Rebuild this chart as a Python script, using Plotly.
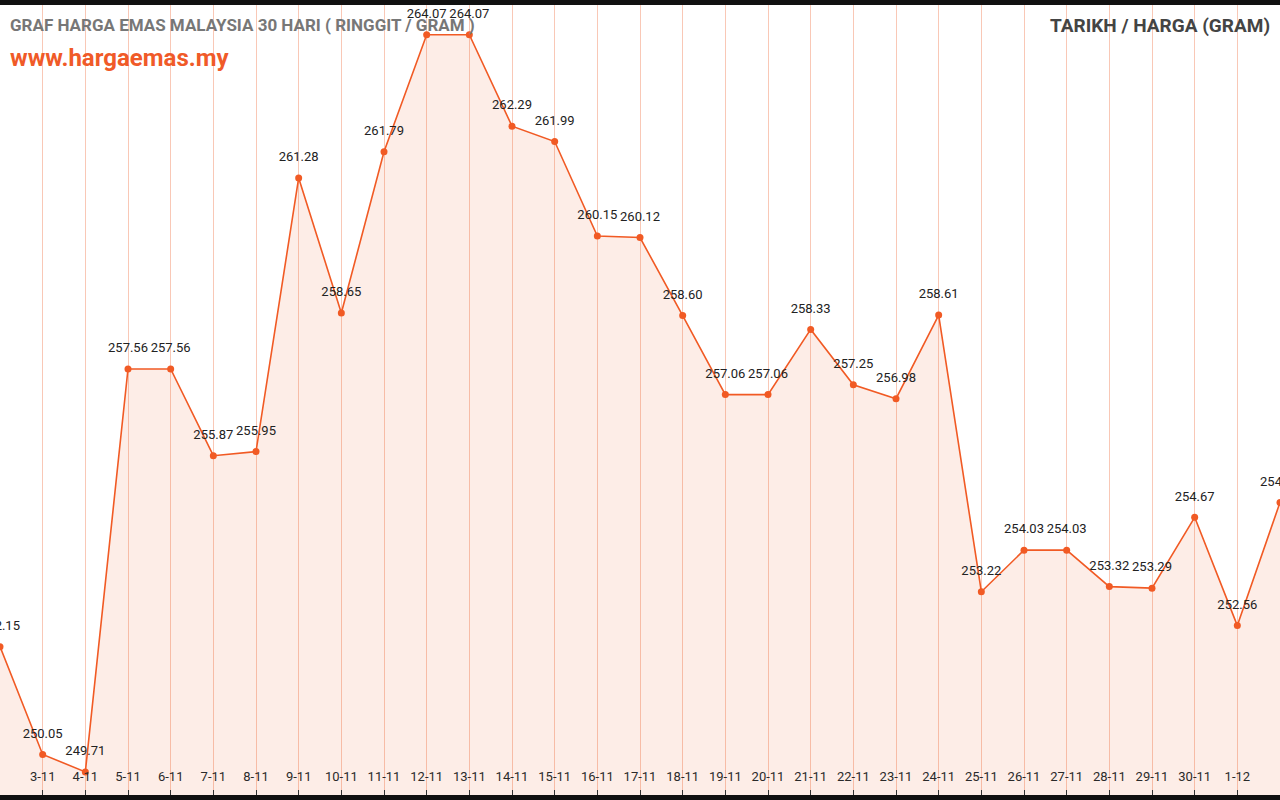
import plotly.graph_objects as go

dates = ["2-11", "3-11", "4-11", "5-11", "6-11", "7-11", "8-11", "9-11", "10-11", "11-11",
         "12-11", "13-11", "14-11", "15-11", "16-11", "17-11", "18-11", "19-11", "20-11", "21-11",
         "22-11", "23-11", "24-11", "25-11", "26-11", "27-11", "28-11", "29-11", "30-11", "1-12", "2-12"]
prices = [252.15, 250.05, 249.71, 257.56, 257.56, 255.87, 255.95, 261.28, 258.65, 261.79,
          264.07, 264.07, 262.29, 261.99, 260.15, 260.12, 258.60, 257.06, 257.06, 258.33,
          257.25, 256.98, 258.61, 253.22, 254.03, 254.03, 253.32, 253.29, 254.67, 252.56, 254.96]

title_text = "GRAF HARGA EMAS MALAYSIA 30 HARI ( RINGGIT / GRAM )"
site_text = "www.hargaemas.my"
right_text = "TARIKH / HARGA (GRAM)"

ORANGE = "#f15a24"

fig = go.Figure()
fig.add_trace(go.Scatter(
    x=dates, y=prices,
    mode="lines+markers",
    line=dict(color=ORANGE, width=1.6),
    marker=dict(color=ORANGE, size=7),
    fill="tozeroy",
    fillcolor="rgba(241,90,36,0.11)",
    cliponaxis=False,
    hoverinfo="skip",
    showlegend=False,
))
# value labels (invisible larger markers give a bigger text offset)
fig.add_trace(go.Scatter(
    x=dates, y=prices,
    mode="markers+text",
    marker=dict(color="rgba(0,0,0,0)", size=20),
    text=[f"{p:.2f}" for p in prices],
    textposition="top center",
    textfont=dict(family="Roboto", size=13, color="#222222"),
    cliponaxis=False,
    hoverinfo="skip",
    showlegend=False,
))

fig.update_layout(
    width=1280, height=800,
    margin=dict(l=0, r=0, t=5, b=5),
    paper_bgcolor="#111111",
    plot_bgcolor="#ffffff",
    font=dict(family="Roboto", size=13, color="#333333"),
    xaxis=dict(
        type="category",
        range=[0, 30],
        showgrid=True, gridcolor="#f9c8b6", gridwidth=1,
        ticks="inside", ticklen=5, tickcolor="#333333",
        ticklabelposition="inside",
        ticklabelstandoff=6,
        tickfont=dict(family="Roboto", size=13, color="#2a2a2a"),
        showline=False, zeroline=False,
    ),
    yaxis=dict(
        range=[249.26, 264.65],
        showgrid=False, zeroline=False,
        showticklabels=False,
        showline=True, linecolor="#6b4a3f", linewidth=2,
    ),
    annotations=[
        dict(text=f"<b>{title_text}</b>", xref="paper", yref="paper",
             x=8/1280, y=(795-25)/790, xanchor="left", yanchor="middle",
             showarrow=False, font=dict(family="Roboto", size=17, color="#777777")),
        dict(text=f"<b>{site_text}</b>", xref="paper", yref="paper",
             x=8/1280, y=(795-58)/790, xanchor="left", yanchor="middle",
             showarrow=False, font=dict(family="Roboto", size=24, color="#f05a28")),
        dict(text=f"<b>{right_text}</b>", xref="paper", yref="paper",
             x=1272/1280, y=(795-25)/790, xanchor="right", yanchor="middle",
             showarrow=False, font=dict(family="Roboto", size=19, color="#444444")),
    ],
)

fig.write_html("out.html",
               config={"displayModeBar": False},
               post_script="document.body.style.margin='0';document.body.style.overflow='hidden';")
